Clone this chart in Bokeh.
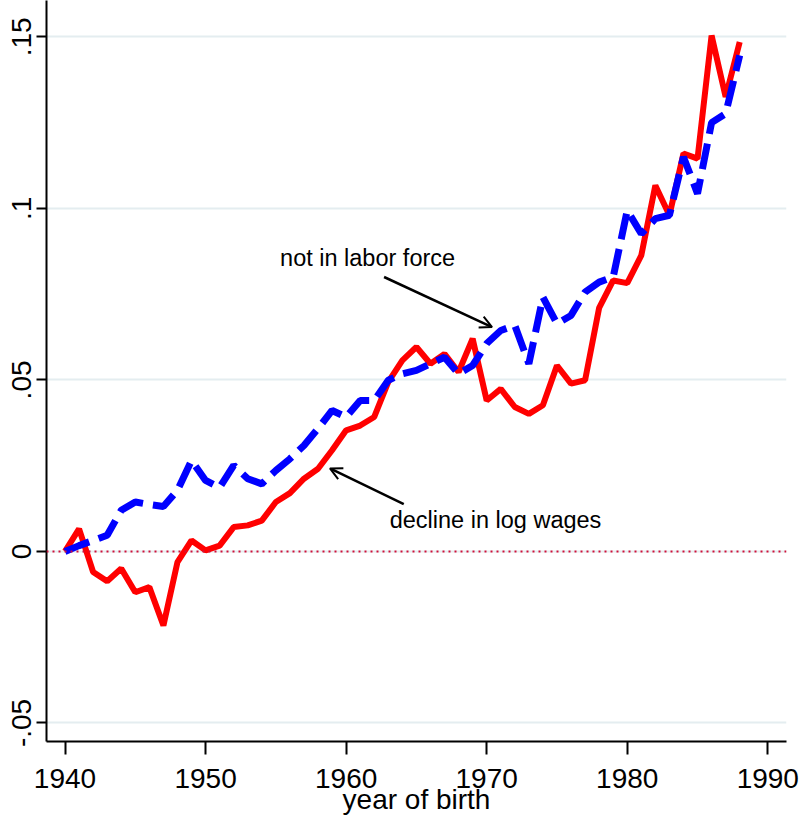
from bokeh.plotting import figure
from bokeh.models import Range1d, FixedTicker, CustomJSTickFormatter, Span, Arrow, OpenHead, Label
from bokeh.embed import file_html
from bokeh.resources import INLINE

years = list(range(1940, 1989))
wages = [0.0, 0.0066, -0.006, -0.0087, -0.005, -0.0119, -0.0104, -0.0216, -0.0031, 0.0032,
         0.0003, 0.0017, 0.0071, 0.0076, 0.009, 0.0144, 0.017, 0.0212, 0.0241, 0.0295,
         0.0353, 0.0367, 0.0392, 0.0494, 0.0557, 0.0596, 0.0547, 0.0576, 0.0523, 0.062,
         0.044, 0.0474, 0.0421, 0.0401, 0.0426, 0.0542, 0.0489, 0.0499, 0.0710, 0.079,
         0.0782, 0.0863, 0.1067, 0.098, 0.116, 0.1145, 0.1504, 0.1325, 0.1485]
nilf = [0.0, 0.0017, 0.0032, 0.0047, 0.012, 0.0144, 0.0137, 0.0131, 0.0178, 0.0265,
        0.0207, 0.0186, 0.0251, 0.0212, 0.0197, 0.0236, 0.027, 0.0309, 0.0358, 0.0411,
        0.0392, 0.044, 0.044, 0.0499, 0.0518, 0.0528, 0.0547, 0.0566, 0.0518, 0.0542,
        0.0606, 0.0644, 0.0659, 0.0547, 0.0741, 0.0664, 0.0688, 0.0756, 0.0785, 0.08,
        0.0994, 0.0926, 0.097, 0.098, 0.115, 0.1043, 0.125, 0.1276, 0.1446]

x_ticks = [1940, 1950, 1960, 1970, 1980, 1990]
y_ticks = [-0.05, 0.0, 0.05, 0.1, 0.15]
y_tick_labels = ["-.05", "0", ".05", ".1", ".15"]
x_label = "year of birth"
label_nilf = "not in labor force"
label_wages = "decline in log wages"

FONT = "Liberation Sans"

p = figure(width=800, height=823, output_backend="svg", toolbar_location=None,
           x_range=Range1d(1938.683, 1991.33), y_range=Range1d(-0.0554, 0.1606),
           min_border_left=46, min_border_right=14, min_border_top=0, min_border_bottom=82)
p.outline_line_color = None
p.background_fill_color = "white"
p.border_fill_color = "white"

# grid
p.xgrid.grid_line_color = None
p.ygrid.ticker = FixedTicker(ticks=y_ticks)
p.ygrid.grid_line_color = "#e4edf0"
p.ygrid.grid_line_width = 2

# axes
for ax in (p.xaxis[0], p.yaxis[0]):
    ax.axis_line_color = "black"
    ax.axis_line_width = 2
    ax.major_tick_line_color = "black"
    ax.major_tick_line_width = 2
    ax.major_tick_in = 0
    ax.minor_tick_line_color = None
    ax.major_label_text_font = FONT
    ax.major_label_text_font_size = "28px"
    ax.major_label_text_color = "black"

p.xaxis.ticker = FixedTicker(ticks=x_ticks)
p.xaxis.major_tick_out = 13
p.xaxis.major_label_standoff = 14
p.xaxis.axis_label = x_label
p.xaxis.axis_label_text_font = FONT
p.xaxis.axis_label_text_font_size = "28px"
p.xaxis.axis_label_text_font_style = "normal"
p.xaxis.axis_label_text_color = "black"
p.xaxis.axis_label_standoff = -7

p.yaxis.ticker = FixedTicker(ticks=y_ticks)
p.yaxis.major_tick_out = 10
p.yaxis.major_label_standoff = 5
p.yaxis.major_label_orientation = "vertical"
p.yaxis.formatter = CustomJSTickFormatter(args=dict(tvals=y_ticks, tlabels=y_tick_labels), code="""
let best = 0, d = Infinity;
for (let i = 0; i < tvals.length; i++) {
  const dd = Math.abs(tvals[i] - tick);
  if (dd < d) { d = dd; best = i; }
}
return tlabels[best];
""")

# zero reference line
p.add_layout(Span(location=0, dimension="width", line_color="#d0103a", line_width=2, line_dash="2 4"))

# series
p.line(years, wages, line_color="#ff0000", line_width=6)
p.line(years, nilf, line_color="#0000ff", line_width=7, line_dash="26 10")

# annotations
p.add_layout(Label(x=1955.3, y=0.0855, text=label_nilf, text_font=FONT, text_font_size="23.5px",
                   text_color="black", text_baseline="alphabetic", text_align="left"))
p.add_layout(Label(x=1963.1, y=0.0092, text=label_wages, text_font=FONT, text_font_size="23.5px",
                   text_color="black", text_baseline="alphabetic", text_align="left"))
p.add_layout(Arrow(x_start=1962.7, y_start=0.0800, x_end=1970.38, y_end=0.0654,
                   line_width=2.5, line_color="black",
                   end=OpenHead(size=12, line_width=2, line_color="black")))
p.add_layout(Arrow(x_start=1964.1, y_start=0.0138, x_end=1958.85, y_end=0.0242,
                   line_width=2.5, line_color="black",
                   end=OpenHead(size=12, line_width=2, line_color="black")))

open("out.html", "w").write(file_html(p, INLINE))
